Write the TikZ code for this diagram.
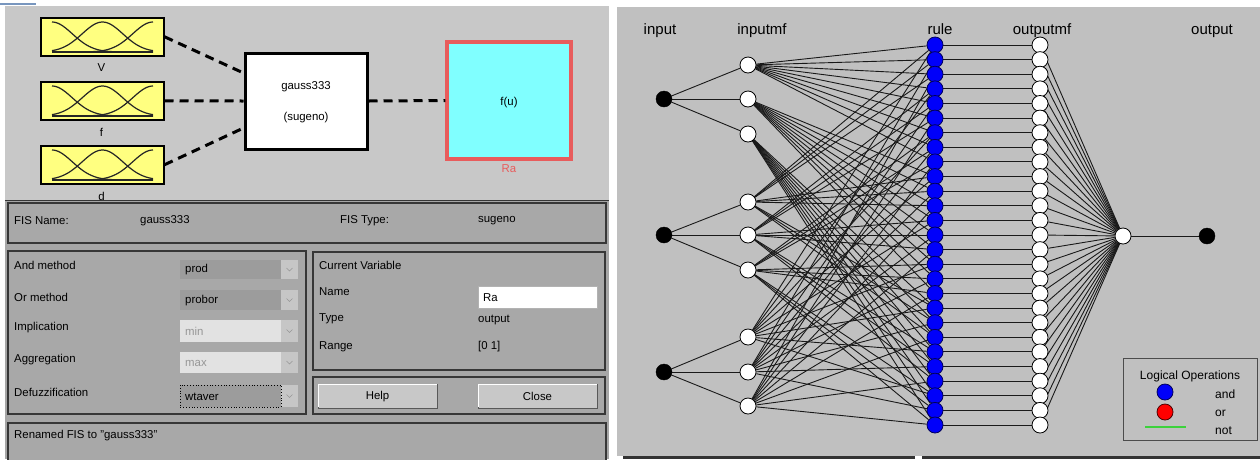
\documentclass[tikz,border=0pt]{standalone}
\usepackage{fontspec}
\setmainfont{Liberation Sans}
\usetikzlibrary{calc}
\definecolor{topgray}{RGB}{200,200,200}
\definecolor{uigray}{RGB}{166,166,166}
\definecolor{panelgray}{RGB}{168,168,168}
\definecolor{paneledge}{RGB}{55,55,55}
\definecolor{netgray}{RGB}{192,192,192}
\definecolor{mfyellow}{RGB}{255,255,128}
\definecolor{fucyan}{RGB}{128,255,255}
\definecolor{fured}{RGB}{232,92,92}
\definecolor{dropdark}{RGB}{156,156,156}
\definecolor{droplight}{RGB}{226,226,226}
\definecolor{droparrow}{RGB}{198,198,198}
\definecolor{dimtext}{RGB}{150,150,150}
\definecolor{btnfill}{RGB}{200,200,200}
\definecolor{ruleblue}{RGB}{0,0,250}
\definecolor{ruleedge}{RGB}{0,0,90}
\definecolor{wirecolor}{RGB}{25,25,25}
\definecolor{notgreen}{RGB}{60,210,60}
\definecolor{tabblue}{RGB}{120,150,190}
\pgfdeclarelayer{back}
\pgfdeclarelayer{wires}
\pgfsetlayers{back,wires,main}
\begin{document}
\begin{tikzpicture}[x=1pt,y=-1pt,
  uitext/.style={font=\fontsize{11.4}{13}\selectfont, inner sep=0pt, anchor=west, text=black},
  uicenter/.style={font=\fontsize{11.4}{13}\selectfont, inner sep=0pt},
  nettext/.style={font=\fontsize{15}{17}\selectfont, inner sep=0pt, anchor=base},
  legtext/.style={font=\fontsize{12}{14}\selectfont, inner sep=0pt},
  panel/.style={draw=paneledge, line width=1.4pt, fill=panelgray},
  mfbox/.style={draw=black, line width=1.5pt, fill=mfyellow, minimum width=123pt, minimum height=38pt, inner sep=0pt},
  dashline/.style={line width=3pt, dash pattern=on 9pt off 6pt},
  innode/.style={circle, draw=black, fill=black, minimum size=16pt, inner sep=0pt},
  mfnode/.style={circle, draw=black, line width=0.8pt, fill=white, minimum size=16pt, inner sep=0pt},
  rulenode/.style={circle, draw=ruleedge, line width=0.8pt, fill=ruleblue, minimum size=16pt, inner sep=0pt},
  wire/.style={line width=0.9pt, draw=wirecolor},
  chevron/.style={line width=0.6pt, draw=dimtext},
  button/.style={fill=btnfill, draw=gray!70!black, line width=0.8pt},
]
\useasboundingbox (0,0) rectangle (1260,459);

% ---------- backgrounds ----------
\begin{pgfonlayer}{back}
\fill[white] (0,0) rectangle (1260,459);
\fill[topgray] (5,6) rectangle (609,200);
\fill[uigray] (5,200) rectangle (609,459);
\draw[paneledge, line width=1pt] (5,200) -- (609,200);
\draw[tabblue, line width=1.5pt] (0,4) -- (36,4);
\fill[netgray] (617,7) rectangle (1260,456);
\fill[black!80] (623,456) rectangle (915,459);
\fill[black!80] (922,456) rectangle (1260,459);
\end{pgfonlayer}

% ---------- FIS editor: diagram ----------
\foreach \nm/\yy in {V/17, f/81, d/145}{
  \node[mfbox, anchor=north west] (mf\nm) at (40,\yy) {};
  \begin{scope}[shift={(0,\yy)}]
    \foreach \c in {52,102.5,153}
      \draw[line width=1.2pt, black!85] plot[domain=52:153, samples=50] (\x,{35-30*exp(-((\x-\c)^2)/824)});
    \draw[line width=1.2pt, black!85] (52,35) -- (153,35);
  \end{scope}
  \node[uicenter] (lab\nm) at (101.5,\yy+51) {\nm};
}
\node[draw=black, line width=3pt, fill=white, minimum width=122pt, minimum height=96pt, inner sep=0pt] (gauss) at (306,101) {};
\node[uicenter] (gname) at (306,87) {gauss333};
\node[uicenter] (gtype) at (306,118) {(sugeno)};
\node[draw=fured, line width=3.5pt, fill=fucyan, minimum width=124pt, minimum height=117pt, inner sep=0pt] (fu) at (509,100.5) {};
\node[uicenter] (futext) at (509,103) {f(u)};
\node[uicenter, text=fured] (ra) at (509,169) {Ra};

\draw[dashline] (mfV.east) -- ($(gauss.west)+(0,-28)$);
\draw[dashline] (mff.east) -- (gauss.west);
\draw[dashline] (mfd.east) -- ($(gauss.west)+(0,27)$);
\draw[dashline] (gauss.east) -- (fu.west);

% ---------- FIS editor: panels ----------
\draw[panel] (8,203) rectangle (606,243);
\node[uitext] (fisname) at (14,221) {FIS Name:};
\node[uitext] (fisnamev) at (140,221) {gauss333};
\node[uitext] (fistype) at (340,221) {FIS Type:};
\node[uitext] (fistypev) at (478,221) {sugeno};

\draw[panel] (8,251) rectangle (306,414);
\foreach \y/\lab in {265/And method, 297/Or method, 328/Implication, 360/Aggregation, 392/Defuzzification}
  \node[uitext] (lab\y) at (14,\y) {\lab};
% drop-down menus
\foreach \ya/\yb/\val/\fillc/\txtc in {260/279/prod/dropdark/black, 290/310/probor/dropdark/black, 320/342/min/droplight/dimtext, 352/373/max/droplight/dimtext, 385/407/wtaver/dropdark/black}{
  \fill[\fillc] (180,\ya) rectangle (281,\yb);
  \fill[droparrow] (281,\ya) rectangle (298,\yb);
  \draw[chevron] (286.5,{(\ya+\yb)/2-1.5}) -- (289.5,{(\ya+\yb)/2+1.5}) -- (292.5,{(\ya+\yb)/2-1.5});
  \node[uitext, text=\txtc] (dd\val) at (185,{(\ya+\yb)/2+0.5}) {\val};
}
\draw[black, dotted, line width=0.8pt] (180,385) rectangle (281,407);

\draw[panel] (313,252) rectangle (605,370);
\node[uitext] (curvar) at (319,265) {Current Variable};
\node[uitext] (vname) at (319,292) {Name};
\node[uitext] (vtype) at (319,319) {Type};
\node[uitext] (vrange) at (319,347) {Range};
\fill[white] (478,286) rectangle (597,308);
\draw[gray!60, line width=0.6pt] (478,286) rectangle (597,308);
\node[uitext] (vnamev) at (483,298) {Ra};
\node[uitext] (vtypev) at (478,320) {output};
\node[uitext] (vrangev) at (478,347) {[0 1]};

\draw[panel] (313,377) rectangle (605,414);
\draw[button] (318,384) rectangle (437,408);
\draw[white, line width=1pt] (318.5,407) -- (318.5,384.5) -- (436.5,384.5);
\node[uicenter] (help) at (377.5,396.5) {Help};
\draw[button] (478,384) rectangle (597,408);
\draw[white, line width=1pt] (478.5,407) -- (478.5,384.5) -- (596.5,384.5);
\node[uicenter] (close) at (537.5,396.5) {Close};

\draw[panel] (8,423) rectangle (606,475);
\node[uitext] (status) at (14,436) {Renamed FIS to "gauss333"};

% ---------- rule network ----------
\node[nettext] (hin) at (660,34) {input};
\node[nettext] (hinmf) at (762,34) {inputmf};
\node[nettext] (hrule) at (940,34) {rule};
\node[nettext] (houtmf) at (1042,34) {outputmf};
\node[nettext] (hout) at (1212,34) {output};

\foreach \i/\y in {1/99, 2/235, 3/372}
  \node[innode] (in\i) at (664,\y) {};
\foreach \i/\y in {1/65, 2/99, 3/134, 4/202, 5/235, 6/270, 7/337, 8/372, 9/406}
  \node[mfnode] (m\i) at (748,\y) {};
\foreach \k in {1,...,27}{
  \pgfmathsetmacro\ry{45+(\k-1)*380/26}
  \node[rulenode] (r\k) at (935,\ry) {};
  \node[mfnode] (o\k) at (1040,\ry) {};
}
\node[mfnode] (agg) at (1123,236) {};
\node[innode] (out) at (1207,236) {};

\begin{pgfonlayer}{wires}
\foreach \i in {1,2,3}{
  \foreach \j in {1,2,3}{
    \pgfmathtruncatemacro\mm{3*(\i-1)+\j}
    \draw[wire] (in\i) -- (m\mm);
  }
}
\foreach \k in {1,...,27}{
  \pgfmathtruncatemacro\ma{1+div(\k-1,9)}
  \pgfmathtruncatemacro\mb{4+mod(div(\k-1,3),3)}
  \pgfmathtruncatemacro\mc{7+mod(\k-1,3)}
  \draw[wire] (m\ma) -- (r\k);
  \draw[wire] (m\mb) -- (r\k);
  \draw[wire] (m\mc) -- (r\k);
  \draw[wire] (r\k) -- (o\k);
  \draw[wire] (o\k) -- (agg);
}
\draw[wire] (agg) -- (out);
\end{pgfonlayer}

% ---------- legend ----------
\draw[black!70, line width=1pt] (1123,358) rectangle (1257,440);
\node[legtext] (legtitle) at (1190,376) {Logical Operations};
\node[circle, draw=ruleedge, line width=0.8pt, fill=ruleblue, minimum size=16pt, inner sep=0pt] (legand) at (1165,392) {};
\node[circle, draw=black!70!red, line width=0.8pt, fill=red, minimum size=16pt, inner sep=0pt] (legor) at (1165,412) {};
\coordinate (notA) at (1145,427);
\coordinate (notB) at (1186,427);
\draw[notgreen, line width=1.5pt] (notA) -- (notB);
\node[legtext, anchor=west] (andtxt) at (1215,394) {and};
\node[legtext, anchor=west] (ortxt) at (1215,413) {or};
\node[legtext, anchor=west] (nottxt) at (1215,431) {not};
\end{tikzpicture}
\end{document}
